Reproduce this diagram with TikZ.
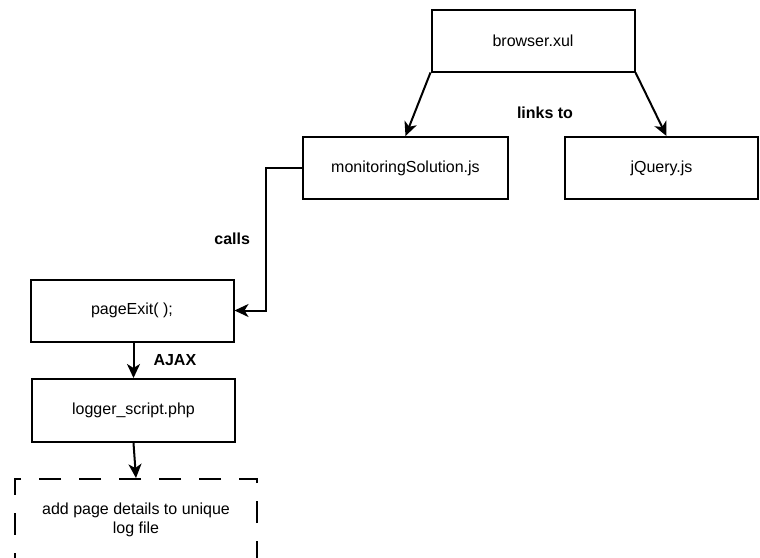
\documentclass[tikz,border=0pt]{standalone}
\usepackage{fontspec}
\setmainfont{Liberation Sans}
\usepackage{tikz}
\usetikzlibrary{arrows.meta,positioning}
\tikzset{%
  % classes
  box/.style={draw, line width=2pt, align=center, inner sep=4pt,
    minimum width=203pt, minimum height=62pt,
    font=\fontsize{16}{19}\selectfont},
  file/.style={box},
  note/.style={box, dash pattern=on 22pt off 18pt, minimum width=242pt,
    minimum height=82pt},
  % edge styles
  rel/.style={-{Stealth[length=14pt, width=13pt, inset=4pt]}, line width=2pt},
  lbl/.style={font=\fontsize{16}{19}\selectfont\bfseries, inner sep=1pt},
}

\begin{document}
\begin{tikzpicture}[x=1pt, y=-1pt]
  \clip (0,0) rectangle (760,557);

  \node[file] (browser) at (533,40.5) {browser.xul};
  \node[file, minimum width=205pt] (monitor) at (405.5,168) {monitoringSolution.js};
  \node[file, minimum width=193pt] (jquery) at (661.5,168) {jQuery.js};

  \node[file] (pageexit) at (132,310.5) {pageExit( );};
  \node[file, minimum height=63pt] (logger) at (133.5,410.5) {logger\_script.php};
  \node[note] (logfile) at (136,520) {add page details to unique\\log file};

  \node[lbl] (linksto) at (545,113) {links to};

  \draw[rel] (browser.south west) -- (monitor.north);
  \draw[rel] (browser.south east) -- ([xshift=5pt]jquery.north);

  \draw[rel] (monitor.west) -- ++(-36,0)
    |- node[pos=0.25, left=14pt, lbl] {calls} (pageexit.east);
  \draw[rel] (pageexit.south -| logger.north) -- node[right=18pt, lbl] {AJAX} (logger.north);
  \draw[rel] (logger.south) -- (logfile.north);

\end{tikzpicture}
\end{document}
